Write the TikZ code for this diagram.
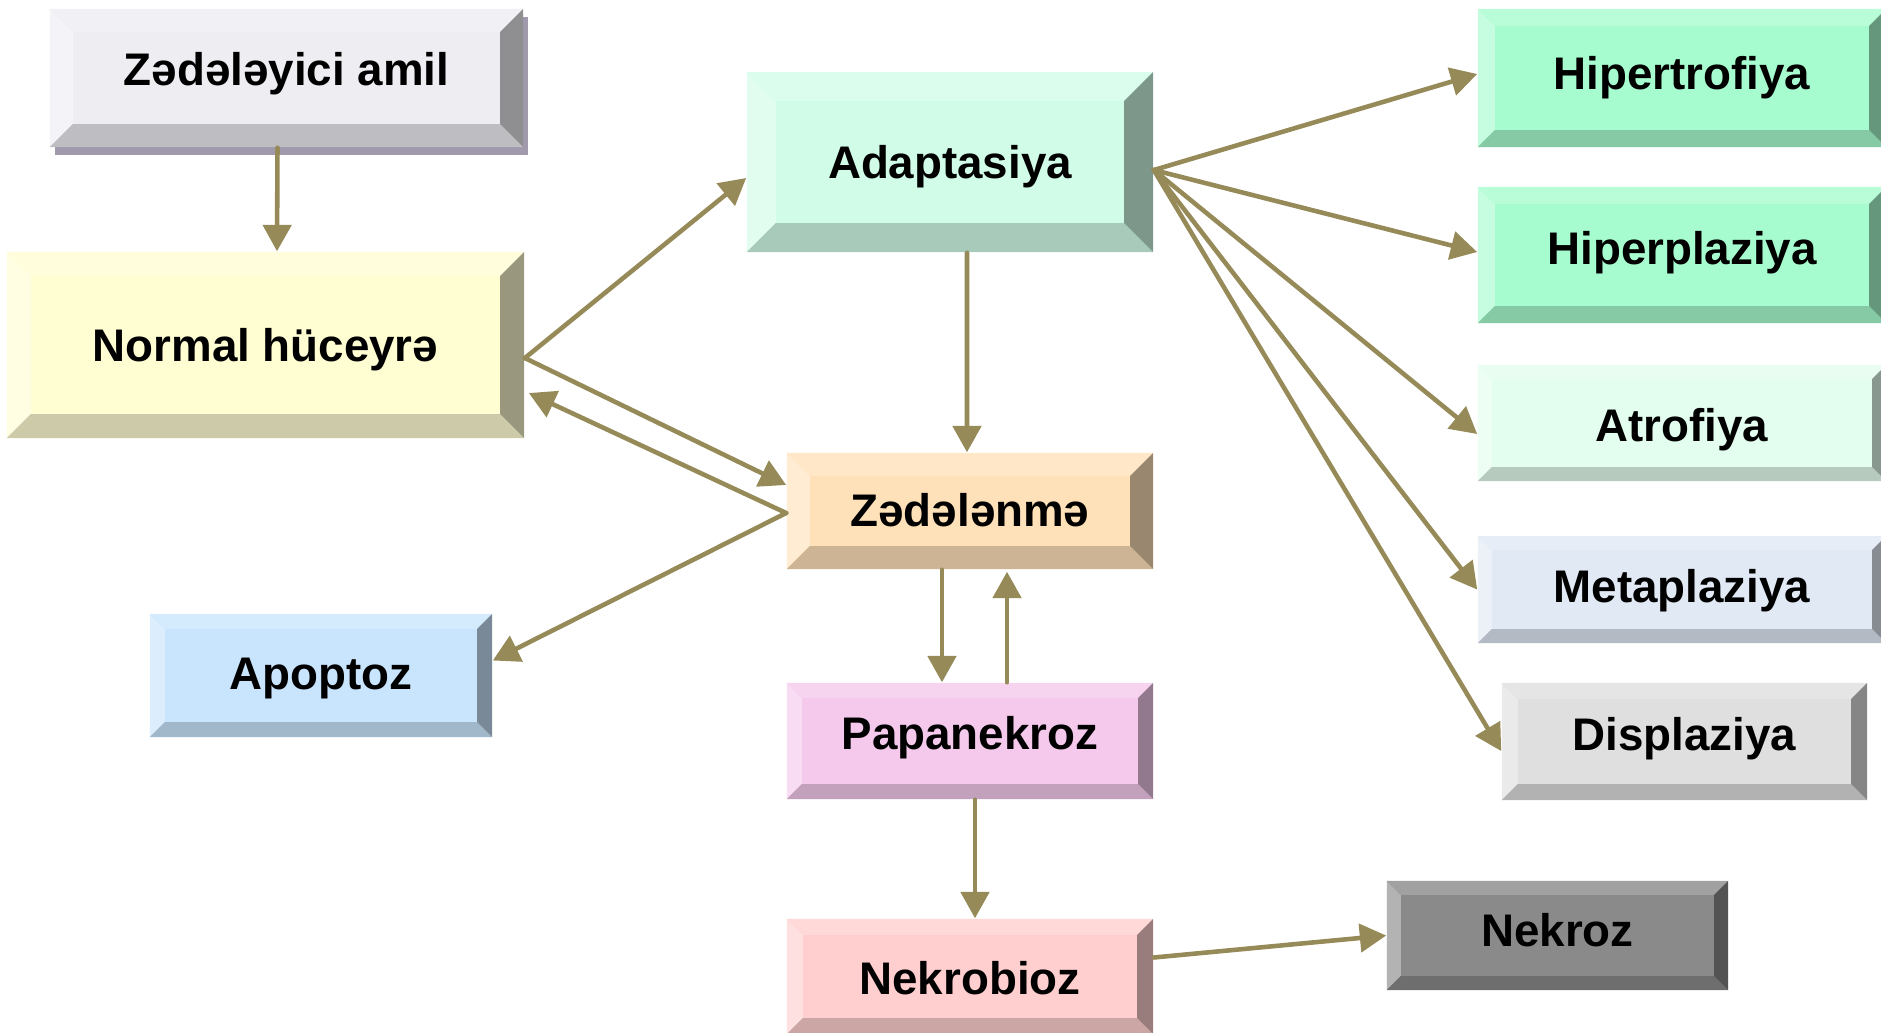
\documentclass[tikz,border=0pt]{standalone}
\usepackage{fontspec}
\setmainfont{Liberation Sans}
\usepackage{tikz}
\usetikzlibrary{arrows.meta}
\usetikzlibrary{shadows}
\usepackage{color}
\definecolor{arr}{HTML}{958A58}
\definecolor{cAmil}{HTML}{EEEDF2}
\definecolor{cAmilSh}{HTML}{A09AAC}
\definecolor{cNorm}{HTML}{FFFDD2}
\definecolor{cAdapt}{HTML}{D0FCE8}
\definecolor{cZed}{HTML}{FFE1B9}
\definecolor{cPapa}{HTML}{F4C9EC}
\definecolor{cNbio}{HTML}{FFCFCF}
\definecolor{cApop}{HTML}{C9E5FD}
\definecolor{cNekr}{HTML}{8A8A8A}
\definecolor{cHiper}{HTML}{A7FCCF}
\definecolor{cAtrof}{HTML}{E3FEEE}
\definecolor{cMeta}{HTML}{E1E9F4}
\definecolor{cDispl}{HTML}{DFDFDF}

\begin{document}
\begin{tikzpicture}[line cap=round,line join=round,>={Triangle[length=7.5pt,width=8pt]},x=0.01cm,y=-0.01cm,
  bevbox/.style 2 args={fill=#1,draw=none,inner sep=0pt,text height=0.75em,text depth=0.25em,
    font=\fontsize{13}{15}\selectfont\bfseries,
    path picture={
      \fill[#1!65!white] (path picture bounding box.north west) -- ([shift={(#2,-#2)}]path picture bounding box.north west)
        -- ([shift={(#2,#2)}]path picture bounding box.south west) -- (path picture bounding box.south west) -- cycle;
      \fill[#1!80!white] (path picture bounding box.north west) -- (path picture bounding box.north east)
        -- ([shift={(-#2,-#2)}]path picture bounding box.north east) -- ([shift={(#2,-#2)}]path picture bounding box.north west) -- cycle;
      \fill[#1!80!black] (path picture bounding box.south west) -- ([shift={(#2,#2)}]path picture bounding box.south west)
        -- ([shift={(-#2,#2)}]path picture bounding box.south east) -- (path picture bounding box.south east) -- cycle;
      \fill[#1!60!black] (path picture bounding box.north east) -- (path picture bounding box.south east)
        -- ([shift={(-#2,#2)}]path picture bounding box.south east) -- ([shift={(-#2,-#2)}]path picture bounding box.north east) -- cycle;
    }},
  link/.style={->,draw=arr,line width=1.3pt}]
\useasboundingbox (0,0) rectangle (1881,1032);

\node[bevbox={cAmil}{0.23cm},minimum width=4.73cm,minimum height=1.38cm,text height=0.65em,
  drop shadow={shadow xshift=0.05cm,shadow yshift=-0.08cm,fill=cAmilSh,opacity=1}] (amil) at (286.5,78) {Zədələyici amil};
\node[bevbox={cNorm}{0.24cm},minimum width=5.17cm,minimum height=1.86cm,text height=1.17em] (normal) at (265.5,345) {Normal hüceyrə};
\node[bevbox={cAdapt}{0.29cm},minimum width=4.06cm,minimum height=1.80cm,text height=1.17em] (adapt) at (950,162) {Adaptasiya};
\node[bevbox={cZed}{0.23cm},minimum width=3.66cm,minimum height=1.16cm,text height=1.12em] (zedel) at (970,511) {Zədələnmə};
\node[bevbox={cApop}{0.15cm},minimum width=3.42cm,minimum height=1.23cm,text height=1.06em] (apop) at (321,675.5) {Apoptoz};
\node[bevbox={cPapa}{0.15cm},minimum width=3.66cm,minimum height=1.16cm] (papa) at (970,741) {Papanekroz};
\node[bevbox={cNbio}{0.16cm},minimum width=3.66cm,minimum height=1.15cm,text height=1.3em] (nbioz) at (970,976.5) {Nekrobioz};
\node[bevbox={cNekr}{0.14cm},minimum width=3.41cm,minimum height=1.09cm,text height=0.85em] (nekroz) at (1557.5,935.5) {Nekroz};
\node[bevbox={cHiper}{0.17cm},minimum width=4.08cm,minimum height=1.38cm,text height=0.91em] (hipert) at (1682,78) {Hipertrofiya};
\node[bevbox={cHiper}{0.17cm},minimum width=4.08cm,minimum height=1.36cm,text height=0.8em] (hiperp) at (1682,255) {Hiperplaziya};
\node[bevbox={cAtrof}{0.14cm},minimum width=4.08cm,minimum height=1.16cm,text height=1.28em] (atrof) at (1682,423) {Atrofiya};
\node[bevbox={cMeta}{0.14cm},minimum width=4.08cm,minimum height=1.07cm,text height=0.96em] (metap) at (1682,589.5) {Metaplaziya};
\node[bevbox={cDispl}{0.16cm},minimum width=3.65cm,minimum height=1.17cm] (displ) at (1684.5,741.5) {Displaziya};

\draw[link] ([xshift=-0.09cm]amil.south) -- ([xshift=0.115cm]normal.north);
\draw[link] ([yshift=-0.13cm]normal.east) -- ([yshift=-0.16cm]adapt.west);
\draw[link] ([yshift=-0.13cm]normal.east) -- ([yshift=0.26cm]zedel.west);
\draw[link] ([yshift=-0.02cm]zedel.west) -- ([xshift=0.04cm,yshift=-0.48cm]normal.east);
\draw[link] ([yshift=-0.02cm]zedel.west) -- ([yshift=0.15cm]apop.east);
\draw[link] ([xshift=0.17cm]adapt.south) -- ([xshift=-0.03cm]zedel.north);
\draw[link] ([xshift=-0.28cm]zedel.south) -- ([xshift=-0.28cm]papa.north);
\draw[link] ([xshift=0.37cm]papa.north) -- ([xshift=0.37cm,yshift=-0.02cm]zedel.south);
\draw[link] ([xshift=0.05cm]papa.south) -- ([xshift=0.05cm]nbioz.north);
\draw[link] ([yshift=0.19cm]nbioz.east) -- (nekroz.west);
\draw[link] ([yshift=-0.08cm]adapt.east) -- ([yshift=0.04cm]hipert.west);
\draw[link] ([yshift=-0.08cm]adapt.east) -- ([yshift=0.03cm]hiperp.west);
\draw[link] ([yshift=-0.08cm]adapt.east) -- ([yshift=-0.11cm]atrof.west);
\draw[link] ([yshift=-0.08cm]adapt.east) -- (metap.west);
\draw[link] ([yshift=-0.08cm]adapt.east) -- ([yshift=-0.095cm]displ.west);
\end{tikzpicture}
\end{document}
